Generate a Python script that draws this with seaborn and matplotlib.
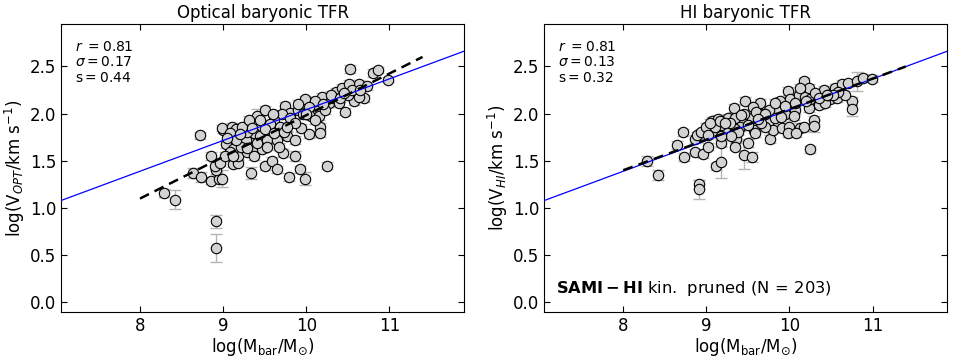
import numpy as np
import matplotlib
matplotlib.use("Agg")
import matplotlib.pyplot as plt
import seaborn as sns

# ---- optical TFR points (log Mbar, log V_OPT, error)
opt_x = [8.29, 8.42, 8.72, 8.64, 8.74, 8.86, 8.86, 8.92, 8.92, 8.95, 8.99, 8.92, 8.90, 8.96,
         9.00, 8.99, 9.04, 9.11, 9.12, 9.18, 9.18, 9.12, 9.16, 9.29, 9.33, 9.37, 9.35, 9.41,
         9.51, 9.50, 9.59, 9.65, 9.72, 9.79, 9.86, 9.92, 9.98, 10.25, 10.03, 10.17, 10.17,
         10.47, 10.53, 10.80, 10.87, 10.98, 10.70, 10.63, 10.57, 10.36, 10.43, 10.19, 9.98,
         9.75, 9.81, 9.71, 9.61, 9.56, 9.45, 9.27, 9.21, 9.37, 9.47, 9.53, 9.65, 9.77, 9.86,
         9.94, 10.06, 10.14, 10.28, 10.33, 10.50, 10.63, 10.73, 10.51, 10.30, 10.10, 9.90,
         9.80, 9.69, 9.57, 9.29, 9.23, 9.08, 9.31, 9.45, 9.51, 9.37, 9.29, 9.08, 9.02, 9.86,
         9.96, 10.03, 10.16, 10.23, 10.39, 10.41, 10.55, 10.11, 9.61, 9.73, 9.67, 9.53, 9.16,
         9.12, 9.41, 9.77, 9.90, 10.00, 10.20, 10.45, 10.65, 9.60, 9.35, 9.20, 9.05]
opt_y = [1.16, 1.09, 1.77, 1.37, 1.33, 1.29, 1.55, 0.86, 0.58, 1.31, 1.31, 1.40, 1.45, 1.48,
         1.83, 1.85, 1.68, 1.86, 1.47, 1.48, 1.55, 1.62, 1.84, 1.59, 1.37, 1.79, 1.92, 1.97,
         2.04, 1.44, 1.50, 1.41, 1.58, 1.33, 1.55, 1.41, 1.31, 1.45, 1.78, 1.86, 1.79,
         2.02, 2.47, 2.43, 2.46, 2.36, 2.16, 2.31, 2.13, 2.23, 2.27, 2.18, 2.15,
         2.08, 2.01, 1.99, 1.93, 1.83, 1.76, 1.72, 1.65, 1.65, 1.62, 1.72, 1.72, 1.76, 1.72,
         1.85, 1.97, 2.04, 2.11, 2.16, 2.20, 2.18, 2.29, 2.31, 2.20, 2.13, 2.04,
         1.95, 1.86, 1.89, 1.80, 1.86, 1.79, 1.93, 1.93, 1.84, 1.55, 1.64, 1.59, 1.55, 1.90,
         1.99, 2.07, 1.97, 2.04, 2.11, 2.16, 2.25, 1.93, 1.79, 1.81, 1.65, 1.65, 1.72,
         1.55, 1.69, 1.86, 2.10, 2.00, 2.10, 2.22, 2.25, 2.00, 1.85, 1.78, 1.74]
opt_err = [0.04, 0.10, 0.04, 0.05, 0.05, 0.04, 0.04, 0.07, 0.15, 0.05, 0.09, 0.04, 0.04, 0.04,
           0.04, 0.03, 0.04, 0.04, 0.04, 0.04, 0.04, 0.04, 0.04, 0.04, 0.06, 0.04, 0.05, 0.08,
           0.04, 0.04, 0.04, 0.04, 0.04, 0.04, 0.05, 0.04, 0.07, 0.04, 0.04, 0.04, 0.04,
           0.04, 0.04, 0.04, 0.03, 0.03, 0.04, 0.04, 0.04, 0.04, 0.04, 0.04, 0.04,
           0.04, 0.04, 0.04, 0.04, 0.04, 0.04, 0.04, 0.04, 0.04, 0.04, 0.04, 0.04, 0.04, 0.04,
           0.04, 0.04, 0.04, 0.04, 0.04, 0.04, 0.04, 0.04, 0.04, 0.04, 0.04, 0.04,
           0.04, 0.04, 0.04, 0.04, 0.04, 0.04, 0.04, 0.04, 0.04, 0.04, 0.04, 0.04, 0.04, 0.04,
           0.04, 0.04, 0.04, 0.04, 0.04, 0.04, 0.04, 0.04, 0.04, 0.04, 0.04, 0.04, 0.04,
           0.04, 0.04, 0.04, 0.04, 0.04, 0.04, 0.04, 0.04, 0.04, 0.04, 0.04, 0.04]

# ---- HI TFR points
hi_x = [8.29, 8.42, 8.65, 8.72, 8.73, 8.86, 8.91, 8.91, 8.86, 8.89, 8.96, 8.94, 9.00, 9.02,
        9.07, 9.11, 9.12, 9.18, 9.18, 9.14, 9.26, 9.33, 9.34, 9.36, 9.35, 9.45, 9.46, 9.50,
        9.55, 9.57, 9.64, 9.56, 9.66, 9.75, 9.77, 9.80, 9.85, 9.91, 9.95, 10.00, 9.98, 10.01,
        10.11, 10.17, 10.19, 10.23, 10.13, 10.17, 10.25, 10.29, 10.29, 10.35, 10.39, 10.41,
        10.49, 10.55, 10.57, 10.63, 10.71, 10.75, 10.75, 10.81, 10.88, 10.99, 10.23, 10.07,
        9.83, 9.71, 9.55, 9.45, 9.40, 9.24, 9.18, 9.10, 9.02, 9.34, 9.50, 9.66, 9.75, 9.89,
        10.05, 10.07, 10.25, 10.43, 10.31, 10.47, 10.67, 9.98, 10.08, 9.58, 9.38, 9.30, 9.18,
        10.59, 9.83, 10.13, 10.53, 9.60, 9.90, 10.35, 9.28, 9.70,
        9.05, 9.16, 9.22, 9.42, 9.62, 9.95, 10.20, 10.45]
hi_y = [1.50, 1.35, 1.67, 1.80, 1.54, 1.59, 1.25, 1.20, 1.73, 1.77, 1.57, 1.80, 1.86, 1.65,
        1.92, 1.80, 1.44, 1.49, 1.69, 1.94, 1.95, 2.06, 1.95, 1.73, 1.65, 1.56, 2.13, 1.69,
        1.54, 1.83, 2.11, 2.07, 1.99, 1.92, 1.73, 1.83, 2.04, 1.85, 1.99, 1.86, 2.24, 2.15,
        2.20, 2.34, 2.18, 2.27, 1.85, 1.86, 1.62, 1.93, 1.87, 2.09, 2.18, 2.25,
        2.15, 2.27, 2.16, 2.31, 2.32, 2.13, 2.05, 2.34, 2.38, 2.37, 2.06, 2.04,
        1.95, 1.86, 1.95, 2.00, 1.86, 1.83, 1.88, 1.86, 1.77, 1.84, 1.88, 1.90, 2.04, 2.13,
        1.97, 2.11, 2.15, 2.11, 2.22, 2.20, 2.20, 1.79, 1.79, 1.79, 1.81, 1.76, 1.76,
        2.23, 2.11, 2.27, 2.20, 2.02, 1.96, 2.16, 1.90, 2.00,
        1.90, 1.92, 1.90, 1.98, 1.94, 2.08, 2.13, 2.20]
hi_err = [0.05, 0.05, 0.04, 0.04, 0.04, 0.04, 0.05, 0.10, 0.04, 0.04, 0.04, 0.04, 0.04, 0.04,
          0.04, 0.04, 0.04, 0.17, 0.04, 0.04, 0.04, 0.04, 0.04, 0.04, 0.04, 0.15, 0.04, 0.04,
          0.05, 0.04, 0.04, 0.04, 0.04, 0.04, 0.04, 0.04, 0.04, 0.04, 0.04, 0.08, 0.04, 0.04,
          0.04, 0.04, 0.04, 0.04, 0.05, 0.04, 0.04, 0.04, 0.06, 0.04, 0.04, 0.04,
          0.04, 0.04, 0.04, 0.04, 0.04, 0.04, 0.08, 0.10, 0.04, 0.04, 0.04, 0.04,
          0.04, 0.04, 0.04, 0.04, 0.04, 0.04, 0.04, 0.04, 0.04, 0.04, 0.04, 0.04, 0.04, 0.04,
          0.04, 0.04, 0.04, 0.04, 0.04, 0.04, 0.04, 0.04, 0.04, 0.04, 0.04, 0.04, 0.04,
          0.04, 0.04, 0.04, 0.04, 0.04, 0.04, 0.04, 0.04, 0.04,
          0.04, 0.04, 0.04, 0.04, 0.04, 0.04, 0.04, 0.04]

# reference relation (blue) and per-panel fits (dashed): slope, intercept at x=0
ref_line = (0.326, -1.219)
opt_fit = (0.441, -2.428)
hi_fit = (0.323, -1.184)
fit_range = (8.0, 11.4)

titles = ["Optical baryonic TFR", "HI baryonic TFR"]
ylabels = [r"log(V$_{OPT}$/km s$^{-1}$)", r"log(V$_{HI}$/km s$^{-1}$)"]
stats_txt = [r"$r\ = 0.81$" + "\n" + r"$\sigma = 0.17$" + "\n" + r"$\mathrm{s} = 0.44$",
             r"$r\ = 0.81$" + "\n" + r"$\sigma = 0.13$" + "\n" + r"$\mathrm{s} = 0.32$"]

sns.set_style("ticks", {"axes.edgecolor": "black", "text.color": "black",
                        "axes.labelcolor": "black", "xtick.color": "black",
                        "ytick.color": "black"})
plt.rcParams["font.family"] = ["DejaVu Sans"]
plt.rcParams["mathtext.fontset"] = "dejavusans"

fig, axes = plt.subplots(1, 2, figsize=(9.54, 3.61), dpi=100)
fig.subplots_adjust(left=0.064, right=0.993, bottom=0.136, top=0.934, wspace=0.199)

panels = [(opt_x, opt_y, opt_err, opt_fit), (hi_x, hi_y, hi_err, hi_fit)]
xlim = (7.05, 11.9)

for i, (ax, (xs, ys, es, fit)) in enumerate(zip(axes, panels)):
    ax.errorbar(xs, ys, yerr=es, fmt="none", ecolor="#b5b5b5", elinewidth=1.0,
                capsize=4, capthick=1.0, zorder=1)
    sns.scatterplot(x=xs, y=ys, ax=ax, color="lightgray", edgecolor="black",
                    linewidth=0.8, s=56, zorder=3)
    lx = np.array(xlim)
    ax.plot(lx, ref_line[0] * lx + ref_line[1], color="blue", lw=0.9, zorder=4)
    fx = np.array(fit_range)
    ax.plot(fx, fit[0] * fx + fit[1], color="black", ls=(0, (4, 2.5)), lw=1.8, zorder=4)

    ax.set_xlim(*xlim)
    ax.set_ylim(-0.1, 2.95)
    ax.set_xticks([8, 9, 10, 11])
    ax.set_yticks([0.0, 0.5, 1.0, 1.5, 2.0, 2.5])
    ax.tick_params(direction="in", top=True, right=True, labelsize=12, length=4)
    ax.set_title(titles[i], fontsize=12, pad=4)
    ax.set_xlabel(r"log(M$_{\rm bar}$/M$_{\odot}$)", fontsize=12, labelpad=1)
    ax.set_ylabel(ylabels[i], fontsize=12, labelpad=2)
    ax.text(0.035, 0.945, stats_txt[i], transform=ax.transAxes, fontsize=10,
            va="top", ha="left", linespacing=1.15)
    for sp in ax.spines.values():
        sp.set_linewidth(0.8)

axes[1].text(0.03, 0.05, r"$\mathbf{SAMI-HI}$ kin.  pruned (N$\,=\,$203)",
             transform=axes[1].transAxes, fontsize=11.7, va="bottom", ha="left")

fig.savefig("out.png", dpi=100)
